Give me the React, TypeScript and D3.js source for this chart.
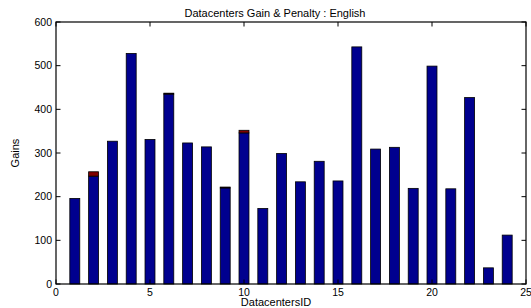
import * as d3 from "d3";

// datacenter ids 1..24
const ids = d3.range(1, 25);
const gains = [196, 247, 327, 528, 331, 435, 323, 314, 220, 346, 173, 299, 234, 281, 236, 543, 309, 313, 219, 499, 218, 427, 37, 112];
const penalties = [0, 10, 0, 0, 0, 2, 0, 0, 2, 6, 0, 0, 0, 0, 0, 0, 0, 0, 0, 0, 0, 0, 0, 0];
const xTicks = [0, 5, 10, 15, 20, 25];
const yTicks = [0, 100, 200, 300, 400, 500, 600];

const W = 531;
const H = 308;
const m = { left: 56, right: 5, top: 22, bottom: 24 };

export default function App() {
  const x = d3.scaleLinear().domain([0, 25]).range([m.left, W - m.right]);
  const y = d3.scaleLinear().domain([0, 600]).range([H - m.bottom, m.top]);
  const bw = x(0.53) - x(0);
  const font = "'Liberation Sans', Arial, sans-serif";
  const tickLen = 4.5;

  return (
    <svg
      width={W}
      height={H}
      style={{ position: "absolute", left: 0, top: 0, background: "#fff" }}
      fontFamily={font}
    >
      {/* bars: gain stacked with penalty */}
      {ids.map((id, i) => {
        const g = gains[i];
        const p = penalties[i];
        return (
          <g key={id} stroke="#000" strokeWidth={0.8}>
            <rect x={x(id) - bw / 2} y={y(g)} width={bw} height={y(0) - y(g)} fill="#00008f" />
            {p > 0 && (
              <rect x={x(id) - bw / 2} y={y(g + p)} width={bw} height={y(g) - y(g + p)} fill="#800000" />
            )}
          </g>
        );
      })}

      {/* box */}
      <rect
        x={x(0)}
        y={y(600)}
        width={x(25) - x(0)}
        height={y(0) - y(600)}
        fill="none"
        stroke="#000"
        strokeWidth={1.2}
      />

      {/* x ticks */}
      {xTicks.map((t) => (
        <g key={"x" + t}>
          <line x1={x(t)} x2={x(t)} y1={y(0)} y2={y(0) - tickLen} stroke="#000" />
          <line x1={x(t)} x2={x(t)} y1={y(600)} y2={y(600) + tickLen} stroke="#000" />
          <text x={x(t)} y={y(0) + 11.5} fontSize={10.5} textAnchor="middle" fill="#000">
            {t}
          </text>
        </g>
      ))}

      {/* y ticks */}
      {yTicks.map((t) => (
        <g key={"y" + t}>
          <line x1={x(0)} x2={x(0) + tickLen} y1={y(t)} y2={y(t)} stroke="#000" />
          <line x1={x(25)} x2={x(25) - tickLen} y1={y(t)} y2={y(t)} stroke="#000" />
          <text x={x(0) - 4} y={y(t) + 3.8} fontSize={10.5} textAnchor="end" fill="#000">
            {t}
          </text>
        </g>
      ))}

      <text x={275} y={17} fontSize={11} textAnchor="middle" fill="#000">
        Datacenters Gain &amp; Penalty : English
      </text>
      <text x={276} y={306} fontSize={11} textAnchor="middle" fill="#000">
        DatacentersID
      </text>
      <text
        transform={`translate(19, ${(y(0) + y(600)) / 2}) rotate(-90)`}
        fontSize={11}
        textAnchor="middle"
        fill="#000"
      >
        Gains
      </text>
    </svg>
  );
}
